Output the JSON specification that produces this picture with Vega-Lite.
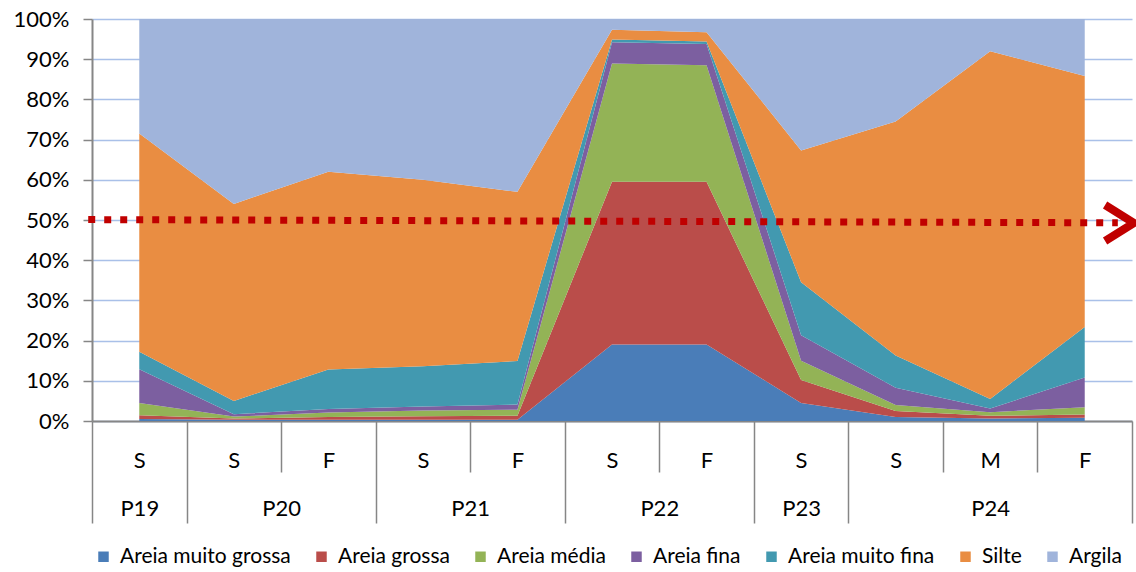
{
  "$schema": "https://vega.github.io/schema/vega-lite/v6.json",
  "autosize": "none",
  "width": 1040,
  "height": 402,
  "padding": {"left": 92, "top": 19, "right": 4, "bottom": 151},
  "background": "white",
  "config": {
    "view": {"stroke": null},
    "font": "Lato",
    "axis": {"labelFont": "Lato", "labelColor": "#000000", "labelOverlap": false, "labelFlush": false}
  },
  "datasets": {
    "granulometria": [
      {"amostra": "P19-S", "fracao": "Areia muito grossa", "ordem": 1, "pct": 0.5},
      {"amostra": "P19-S", "fracao": "Areia grossa", "ordem": 2, "pct": 0.9},
      {"amostra": "P19-S", "fracao": "Areia média", "ordem": 3, "pct": 3.1},
      {"amostra": "P19-S", "fracao": "Areia fina", "ordem": 4, "pct": 8.4},
      {"amostra": "P19-S", "fracao": "Areia muito fina", "ordem": 5, "pct": 4.3},
      {"amostra": "P19-S", "fracao": "Silte", "ordem": 6, "pct": 54.3},
      {"amostra": "P19-S", "fracao": "Argila", "ordem": 7, "pct": 28.5},

      {"amostra": "P20-S", "fracao": "Areia muito grossa", "ordem": 1, "pct": 0.3},
      {"amostra": "P20-S", "fracao": "Areia grossa", "ordem": 2, "pct": 0.3},
      {"amostra": "P20-S", "fracao": "Areia média", "ordem": 3, "pct": 0.5},
      {"amostra": "P20-S", "fracao": "Areia fina", "ordem": 4, "pct": 0.6},
      {"amostra": "P20-S", "fracao": "Areia muito fina", "ordem": 5, "pct": 3.3},
      {"amostra": "P20-S", "fracao": "Silte", "ordem": 6, "pct": 49.0},
      {"amostra": "P20-S", "fracao": "Argila", "ordem": 7, "pct": 46.0},

      {"amostra": "P20-F", "fracao": "Areia muito grossa", "ordem": 1, "pct": 0.3},
      {"amostra": "P20-F", "fracao": "Areia grossa", "ordem": 2, "pct": 0.7},
      {"amostra": "P20-F", "fracao": "Areia média", "ordem": 3, "pct": 1.1},
      {"amostra": "P20-F", "fracao": "Areia fina", "ordem": 4, "pct": 0.9},
      {"amostra": "P20-F", "fracao": "Areia muito fina", "ordem": 5, "pct": 9.8},
      {"amostra": "P20-F", "fracao": "Silte", "ordem": 6, "pct": 49.2},
      {"amostra": "P20-F", "fracao": "Argila", "ordem": 7, "pct": 38.0},

      {"amostra": "P21-S", "fracao": "Areia muito grossa", "ordem": 1, "pct": 0.3},
      {"amostra": "P21-S", "fracao": "Areia grossa", "ordem": 2, "pct": 0.9},
      {"amostra": "P21-S", "fracao": "Areia média", "ordem": 3, "pct": 1.4},
      {"amostra": "P21-S", "fracao": "Areia fina", "ordem": 4, "pct": 1.0},
      {"amostra": "P21-S", "fracao": "Areia muito fina", "ordem": 5, "pct": 10.0},
      {"amostra": "P21-S", "fracao": "Silte", "ordem": 6, "pct": 46.4},
      {"amostra": "P21-S", "fracao": "Argila", "ordem": 7, "pct": 40.0},

      {"amostra": "P21-F", "fracao": "Areia muito grossa", "ordem": 1, "pct": 0.3},
      {"amostra": "P21-F", "fracao": "Areia grossa", "ordem": 2, "pct": 1.0},
      {"amostra": "P21-F", "fracao": "Areia média", "ordem": 3, "pct": 1.5},
      {"amostra": "P21-F", "fracao": "Areia fina", "ordem": 4, "pct": 1.3},
      {"amostra": "P21-F", "fracao": "Areia muito fina", "ordem": 5, "pct": 10.8},
      {"amostra": "P21-F", "fracao": "Silte", "ordem": 6, "pct": 42.1},
      {"amostra": "P21-F", "fracao": "Argila", "ordem": 7, "pct": 43.0},

      {"amostra": "P22-S", "fracao": "Areia muito grossa", "ordem": 1, "pct": 19.0},
      {"amostra": "P22-S", "fracao": "Areia grossa", "ordem": 2, "pct": 40.5},
      {"amostra": "P22-S", "fracao": "Areia média", "ordem": 3, "pct": 29.4},
      {"amostra": "P22-S", "fracao": "Areia fina", "ordem": 4, "pct": 5.3},
      {"amostra": "P22-S", "fracao": "Areia muito fina", "ordem": 5, "pct": 0.7},
      {"amostra": "P22-S", "fracao": "Silte", "ordem": 6, "pct": 2.4},
      {"amostra": "P22-S", "fracao": "Argila", "ordem": 7, "pct": 2.7},

      {"amostra": "P22-F", "fracao": "Areia muito grossa", "ordem": 1, "pct": 19.0},
      {"amostra": "P22-F", "fracao": "Areia grossa", "ordem": 2, "pct": 40.5},
      {"amostra": "P22-F", "fracao": "Areia média", "ordem": 3, "pct": 29.0},
      {"amostra": "P22-F", "fracao": "Areia fina", "ordem": 4, "pct": 5.3},
      {"amostra": "P22-F", "fracao": "Areia muito fina", "ordem": 5, "pct": 0.6},
      {"amostra": "P22-F", "fracao": "Silte", "ordem": 6, "pct": 2.3},
      {"amostra": "P22-F", "fracao": "Argila", "ordem": 7, "pct": 3.3},

      {"amostra": "P23-S", "fracao": "Areia muito grossa", "ordem": 1, "pct": 4.5},
      {"amostra": "P23-S", "fracao": "Areia grossa", "ordem": 2, "pct": 5.7},
      {"amostra": "P23-S", "fracao": "Areia média", "ordem": 3, "pct": 4.8},
      {"amostra": "P23-S", "fracao": "Areia fina", "ordem": 4, "pct": 6.3},
      {"amostra": "P23-S", "fracao": "Areia muito fina", "ordem": 5, "pct": 13.2},
      {"amostra": "P23-S", "fracao": "Silte", "ordem": 6, "pct": 32.8},
      {"amostra": "P23-S", "fracao": "Argila", "ordem": 7, "pct": 32.7},

      {"amostra": "P24-S", "fracao": "Areia muito grossa", "ordem": 1, "pct": 1.0},
      {"amostra": "P24-S", "fracao": "Areia grossa", "ordem": 2, "pct": 1.5},
      {"amostra": "P24-S", "fracao": "Areia média", "ordem": 3, "pct": 1.5},
      {"amostra": "P24-S", "fracao": "Areia fina", "ordem": 4, "pct": 4.3},
      {"amostra": "P24-S", "fracao": "Areia muito fina", "ordem": 5, "pct": 8.0},
      {"amostra": "P24-S", "fracao": "Silte", "ordem": 6, "pct": 58.2},
      {"amostra": "P24-S", "fracao": "Argila", "ordem": 7, "pct": 25.5},

      {"amostra": "P24-M", "fracao": "Areia muito grossa", "ordem": 1, "pct": 0.6},
      {"amostra": "P24-M", "fracao": "Areia grossa", "ordem": 2, "pct": 0.7},
      {"amostra": "P24-M", "fracao": "Areia média", "ordem": 3, "pct": 0.9},
      {"amostra": "P24-M", "fracao": "Areia fina", "ordem": 4, "pct": 0.9},
      {"amostra": "P24-M", "fracao": "Areia muito fina", "ordem": 5, "pct": 2.4},
      {"amostra": "P24-M", "fracao": "Silte", "ordem": 6, "pct": 86.5},
      {"amostra": "P24-M", "fracao": "Argila", "ordem": 7, "pct": 8.0},

      {"amostra": "P24-F", "fracao": "Areia muito grossa", "ordem": 1, "pct": 0.8},
      {"amostra": "P24-F", "fracao": "Areia grossa", "ordem": 2, "pct": 0.8},
      {"amostra": "P24-F", "fracao": "Areia média", "ordem": 3, "pct": 1.8},
      {"amostra": "P24-F", "fracao": "Areia fina", "ordem": 4, "pct": 7.4},
      {"amostra": "P24-F", "fracao": "Areia muito fina", "ordem": 5, "pct": 12.6},
      {"amostra": "P24-F", "fracao": "Silte", "ordem": 6, "pct": 62.4},
      {"amostra": "P24-F", "fracao": "Argila", "ordem": 7, "pct": 14.2}
    ],
    "linha_50": [
      {"posicao": -0.04, "pct": 50.1},
      {"posicao": 10.85, "pct": 49.3}
    ],
    "ponta_seta": [
      {"posicao": 11.02, "pct": 49.25}
    ]
  },
  "layer": [
    {
      "data": {"name": "granulometria"},
      "mark": {"type": "area", "interpolate": "linear"},
      "encoding": {
        "x": {
          "field": "amostra",
          "type": "nominal",
          "scale": {
            "type": "point",
            "padding": 0.5,
            "domain": ["P19-S", "P20-S", "P20-F", "P21-S", "P21-F", "P22-S", "P22-F", "P23-S", "P24-S", "P24-M", "P24-F"]
          },
          "axis": {
            "orient": "bottom",
            "title": null,
            "domain": false,
            "ticks": true,
            "tickSize": 0,
            "grid": false,
            "labelAngle": 0,
            "labelExpr": "split(datum.label, '-')[1]",
            "labelFontSize": 22,
            "labelBaseline": "middle",
            "labelPadding": 39
          }
        },
        "y": {
          "field": "pct",
          "type": "quantitative",
          "stack": "zero",
          "scale": {"domain": [0, 100], "nice": false},
          "axis": {
            "orient": "left",
            "title": null,
            "values": [0, 10, 20, 30, 40, 50, 60, 70, 80, 90, 100],
            "labelExpr": "datum.value + '%'",
            "labelFontSize": 22,
            "labelPadding": 14,
            "tickSize": 9,
            "tickColor": "#868686",
            "tickWidth": 1.5,
            "domainColor": "#868686",
            "domainWidth": 2,
            "grid": true,
            "gridColor": "#A9C0E8",
            "gridWidth": 1.5
          }
        },
        "color": {
          "field": "fracao",
          "type": "nominal",
          "scale": {
            "domain": ["Areia muito grossa", "Areia grossa", "Areia média", "Areia fina", "Areia muito fina", "Silte", "Argila"],
            "range": ["#4A7DB8", "#BA4D4A", "#93B356", "#7C5FA0", "#4299B0", "#E98D42", "#A0B4DB"]
          },
          "legend": {
            "title": null,
            "orient": "none",
            "direction": "horizontal",
            "legendX": 1,
            "legendY": 527,
            "symbolType": "square",
            "symbolSize": 110,
            "symbolStrokeWidth": 0,
            "labelFont": "Lato",
            "labelFontSize": 21,
            "labelColor": "#000000",
            "labelOffset": 6,
            "columnPadding": 20,
            "labelLimit": 400
          }
        },
        "order": {"field": "ordem", "type": "quantitative"}
      }
    },
    {
      "data": {"name": "linha_50"},
      "mark": {"type": "line", "color": "#C00000", "strokeWidth": 7, "strokeDash": [7, 9], "strokeCap": "butt"},
      "encoding": {
        "x": {
          "field": "posicao",
          "type": "quantitative",
          "scale": {"domain": [0, 11], "nice": false, "zero": false},
          "axis": {
            "orient": "bottom",
            "title": null,
            "values": [0, 1, 2, 3, 4, 5, 6, 7, 8, 9, 10, 11],
            "labels": false,
            "grid": false,
            "domain": true,
            "domainColor": "#868686",
            "domainWidth": 2,
            "ticks": true,
            "tickColor": "#868686",
            "tickWidth": 1.5,
            "tickSize": {"condition": {"test": "indexof([0, 1, 3, 5, 7, 8, 11], datum.value) >= 0", "value": 102}, "value": 51}
          }
        },
        "y": {"field": "pct", "type": "quantitative", "scale": {"domain": [0, 100], "nice": false}, "axis": null}
      }
    },
    {
      "data": {"name": "ponta_seta"},
      "mark": {"type": "point", "shape": "M-1.6,-1L0,0L-1.6,1", "filled": false, "stroke": "#C00000", "strokeWidth": 8, "size": 1296, "opacity": 1, "strokeJoin": "miter"},
      "encoding": {
        "x": {
          "field": "posicao",
          "type": "quantitative",
          "scale": {"domain": [0, 11], "nice": false, "zero": false},
          "axis": {
            "orient": "bottom",
            "title": null,
            "values": [0.5, 2, 4, 6, 7.5, 9.5],
            "labelExpr": "datum.value < 1 ? 'P19' : datum.value < 3 ? 'P20' : datum.value < 5 ? 'P21' : datum.value < 7 ? 'P22' : datum.value < 8 ? 'P23' : 'P24'",
            "labelFontSize": 22,
            "labelBaseline": "middle",
            "labelPadding": 87,
            "grid": false,
            "domain": false,
            "ticks": true,
            "tickSize": 0
          }
        },
        "y": {"field": "pct", "type": "quantitative", "scale": {"domain": [0, 100], "nice": false}, "axis": null}
      }
    }
  ],
  "resolve": {
    "scale": {"x": "independent"},
    "axis": {"x": "independent", "y": "independent"}
  }
}
